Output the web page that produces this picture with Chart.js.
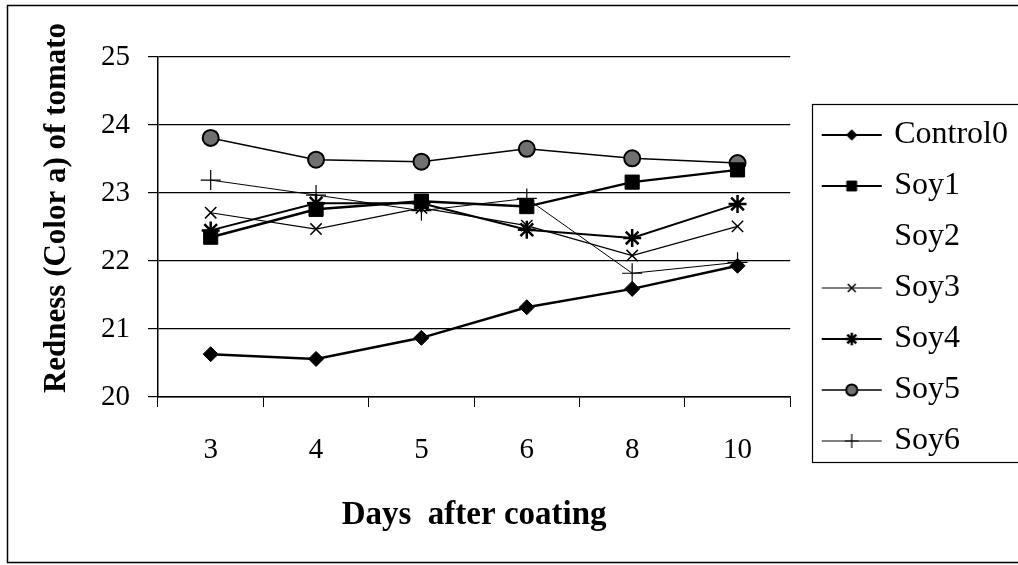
<!DOCTYPE html>
<html lang="en">
<head>
<meta charset="UTF-8">
<title>Redness of tomato</title>
<script src="https://cdn.jsdelivr.net/npm/chart.js@4.4.0/dist/chart.umd.min.js"></script>
<style>
  html, body { margin: 0; padding: 0; background: #fff; }
  #wrap { width: 1018px; height: 565px; }
</style>
</head>
<body>
<div id="wrap"><canvas id="chart" width="1018" height="565"></canvas></div>
<script>
// data
const days = ['3', '4', '5', '6', '8', '10'];
const control0 = [20.63, 20.56, 20.87, 21.32, 21.59, 21.93];
const soy1 = [22.35, 22.76, 22.88, 22.80, 23.16, 23.34];
const soy2 = [22.57, 22.82, 22.84, 22.62, 22.20, 22.55];
const soy3 = [22.71, 22.47, 22.78, 22.52, 22.08, 22.51];
const soy4 = [22.45, 22.85, 22.85, 22.46, 22.34, 22.84];
const soy5 = [23.81, 23.49, 23.46, 23.65, 23.51, 23.44];
const soy6 = [23.19, 22.97, 22.74, 22.92, 21.82, 21.98];
const seriesNames = ['Control0', 'Soy1', 'Soy2', 'Soy3', 'Soy4', 'Soy5', 'Soy6'];
const yMin = 20, yMax = 25, yStep = 1;

const serif = '"Liberation Serif", "Times New Roman", serif';

// marker / line look of each series (Soy2 is white in the original)
const looks = [
  { style: 'rectRot', r: 7.5, fill: '#000', line: '#000', lw: 2.5, pbw: 1, order: 0 },
  { style: 'rect', r: 10, fill: '#000', line: '#000', lw: 2.5, pbw: 1, order: 0 },
  { style: 'rectRot', r: 5, fill: '#fff', line: '#fff', lw: 1, pbw: 1, order: 1 },
  { style: 'crossRot', r: 8, fill: '#000', line: '#000', lw: 1.2, pbw: 1.5, order: 0 },
  { style: 'star', r: 9, fill: '#000', line: '#000', lw: 2, pbw: 2.5, order: 0 },
  { style: 'circle', r: 8, fill: '#707070', line: '#000', lw: 1.5, pbw: 2, order: 0 },
  { style: 'cross', r: 10, fill: '#000', line: '#000', lw: 1, pbw: 1.2, order: 0 }
];
const values = [control0, soy1, soy2, soy3, soy4, soy5, soy6];

const datasets = seriesNames.map((name, i) => ({
  label: name,
  data: values[i],
  order: looks[i].order,
  borderColor: looks[i].line,
  borderWidth: looks[i].lw,
  backgroundColor: looks[i].fill,
  pointStyle: looks[i].style,
  pointRadius: looks[i].r,
  pointBorderWidth: looks[i].pbw,
  pointBorderColor: looks[i].line,
  pointBackgroundColor: looks[i].fill,
  tension: 0,
  fill: false
}));

// little line+marker picture for the legend
function legendIcon(i) {
  const c = document.createElement('canvas');
  c.width = 80; c.height = 30;
  const g = c.getContext('2d');
  const lk = looks[i];
  g.strokeStyle = lk.line;
  g.lineWidth = Math.min(lk.lw, 2);
  g.beginPath(); g.moveTo(18, 15); g.lineTo(78, 15); g.stroke();
  g.fillStyle = lk.fill;
  g.lineWidth = lk.pbw;
  Chart.helpers.drawPoint(g, { pointStyle: lk.style, radius: lk.r * 0.7, rotation: 0, borderWidth: lk.pbw }, 48, 15);
  return c;
}

const framePlugin = {
  id: 'frame',
  afterDraw(chart) {
    const ctx = chart.ctx;
    const lg = chart.legend;
    ctx.save();
    ctx.strokeStyle = '#000';
    ctx.lineWidth = 1.5;
    ctx.strokeRect(7.5, 5.5, 1100, 557);
    ctx.lineWidth = 1.2;
    ctx.strokeRect(Math.round(lg.left) + 22.5, 104.5, 1100, 358);
    // y axis title, placed like the original
    ctx.fillStyle = '#000';
    ctx.font = 'bold 31px ' + serif;
    ctx.textAlign = 'center';
    ctx.textBaseline = 'middle';
    ctx.translate(57, 208);
    ctx.rotate(-Math.PI / 2);
    ctx.fillText('Redness (Color a) of tomato', 0, 0);
    ctx.restore();
  }
};

new Chart(document.getElementById('chart'), {
  type: 'line',
  data: { labels: days, datasets: datasets },
  options: {
    responsive: false,
    animation: false,
    layout: { padding: { top: 11, left: 0, right: 0, bottom: 0 } },
    scales: {
      x: {
        offset: true,
        grid: { offset: true, drawOnChartArea: false, drawTicks: true, tickLength: 10, color: '#000', lineWidth: 1 },
        border: { display: true, color: '#000', width: 1.5 },
        ticks: { color: '#000', font: { family: serif, size: 29 }, padding: 26 },
        title: {
          display: true,
          text: 'Days  after coating',
          color: '#000',
          font: { family: serif, size: 33, weight: 'bold' },
          padding: { top: 0, bottom: 30 }
        },
        afterFit(s) { s.height = 168; }
      },
      y: {
        min: yMin,
        max: yMax,
        ticks: { stepSize: yStep, color: '#000', font: { family: serif, size: 29 }, padding: 18 },
        grid: { color: '#000', lineWidth: 1.2, tickLength: 10, drawTicks: true },
        border: { display: true, color: '#000', width: 1.5 },
        afterFit(s) { s.width = 158; }
      }
    },
    plugins: {
      title: { display: true, text: '', padding: 0, font: { size: 40, lineHeight: 1.15 } },
      tooltip: { enabled: false },
      legend: {
        position: 'right',
        labels: {
          usePointStyle: true,
          pointStyleWidth: 69,
          padding: 19,
          color: '#000',
          font: { family: serif, size: 32 },
          generateLabels(chart) {
            return chart.data.datasets.map((ds, i) => ({
              text: ds.label,
              pointStyle: legendIcon(i),
              datasetIndex: i,
              hidden: false,
              fontColor: '#000',
              lineWidth: 0,
              strokeStyle: 'rgba(0,0,0,0)',
              fillStyle: 'rgba(0,0,0,0)'
            }));
          }
        }
      }
    }
  },
  plugins: [framePlugin]
});
</script>
</body>
</html>
